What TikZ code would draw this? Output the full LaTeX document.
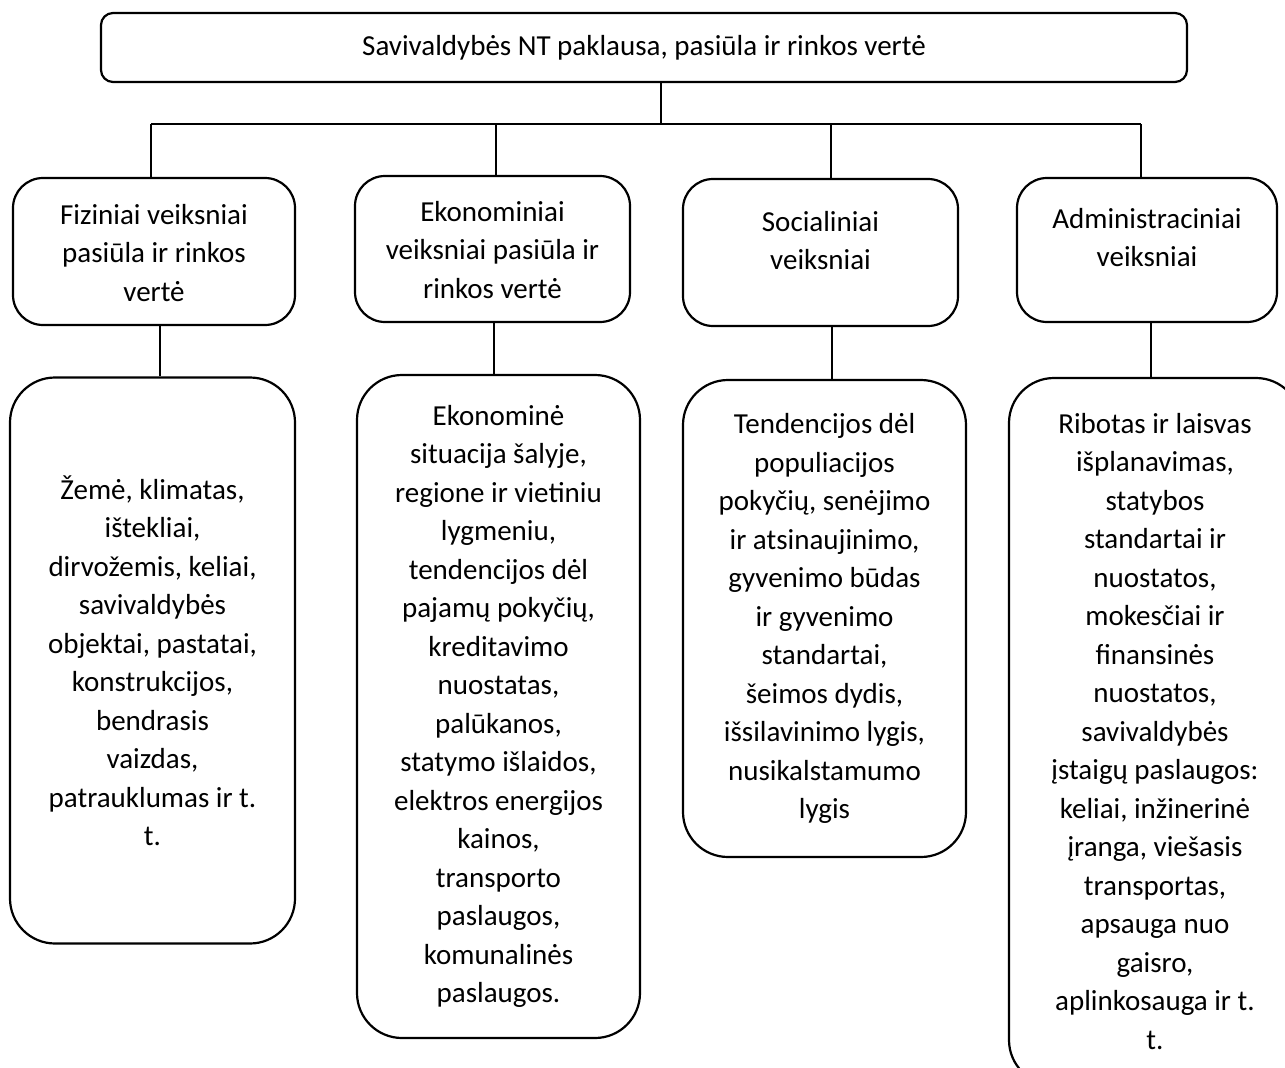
\documentclass[tikz,border=0pt]{standalone}
\usepackage{fontspec}
\setmainfont{Carlito}
\usetikzlibrary{positioning}

\begin{document}
\begin{tikzpicture}[x=1pt, y=-1pt,
  titlebox/.style={draw, rectangle, rounded corners=12pt, line width=2.2pt,
    minimum width=1086pt, minimum height=69pt, inner sep=0pt},
  factorbox/.style={draw, rectangle, rounded corners=30pt, line width=2.2pt, inner sep=0pt},
  detailbox/.style={draw, rectangle, rounded corners=45pt, line width=2.2pt,
    inner sep=0pt, align=center},
  boxtext/.style={inner sep=0pt, align=center, anchor=north},
  conn/.style={line width=1.1pt},
  every node/.style={font=\fontsize{29}{38.5}\selectfont}]
  \useasboundingbox (0, 0) rectangle (1285, 1068);
  \clip (0, 0) rectangle (1285, 1068);

  % Title box
  \node[titlebox] (title) at (644, 47.5)
    {Savivaldybės NT paklausa, pasiūla ir rinkos vertė};

  % Factor boxes
  \node[factorbox, minimum width=282pt, minimum height=147pt] (fiz) at (154, 251.5) {};
  \node[factorbox, minimum width=275pt, minimum height=146pt] (eko) at (492.5, 249) {};
  \node[factorbox, minimum width=275pt, minimum height=147pt] (soc) at (820.5, 252.5) {};
  \node[factorbox, minimum width=260pt, minimum height=144pt] (adm) at (1147, 250) {};

  % Factor labels
  \node[boxtext, below=27pt of fiz.north] (fizlbl)
    {Fiziniai veiksniai\\pasiūla ir rinkos\\vertė};
  \node[boxtext, below=26pt of eko.north] (ekolbl)
    {Ekonominiai\\veiksniai pasiūla ir\\rinkos vertė};
  \node[boxtext, below=33pt of soc.north] (soclbl)
    {Socialiniai\\veiksniai};
  \node[boxtext, below=31pt of adm.north] (admlbl)
    {Administraciniai\\veiksniai};

  % Detail boxes
  \node[detailbox, minimum width=285pt, minimum height=566pt] (fizdet) at (152.5, 660.5)
    {Žemė, klimatas,\\ištekliai,\\dirvožemis, keliai,\\savivaldybės\\objektai, pastatai,\\
     konstrukcijos,\\bendrasis\\vaizdas,\\patrauklumas ir t.\\t.};
  \node[detailbox, minimum width=283pt, minimum height=663pt] (ekodet) at (498.5, 706.5)
    {Ekonominė\\situacija šalyje,\\regione ir vietiniu\\lygmeniu,\\tendencijos dėl\\
     pajamų pokyčių,\\kreditavimo\\nuostatas,\\palūkanos,\\statymo išlaidos,\\
     elektros energijos\\kainos,\\transporto\\paslaugos,\\komunalinės\\paslaugos.};
  \node[detailbox, minimum width=283pt, minimum height=477pt] (socdet) at (824.5, 618.5)
    {Tendencijos dėl\\populiacijos\\pokyčių, senėjimo\\ir atsinaujinimo,\\gyvenimo būdas\\
     ir gyvenimo\\standartai,\\šeimos dydis,\\išsilavinimo lygis,\\nusikalstamumo\\lygis};
  \node[detailbox, minimum width=292pt, minimum height=707pt] (admdet) at (1155, 731.5)
    {Ribotas ir laisvas\\išplanavimas,\\statybos\\standartai ir\\nuostatos,\\mokesčiai ir\\
     finansinės\\nuostatos,\\savivaldybės\\įstaigų paslaugos:\\keliai, inžinerinė\\
     įranga, viešasis\\transportas,\\apsauga nuo\\gaisro,\\aplinkosauga ir t.\\t.};

  % Connectors
  \coordinate (bus) at (661, 124);
  \coordinate (busL) at (151, 124);
  \coordinate (busE) at (496, 124);
  \coordinate (busS) at (831, 124);
  \coordinate (busR) at (1141, 124);
  \draw[conn] (title.south -| bus) -- (bus);
  \draw[conn] (busL) -- (busR);
  \draw[conn] (busL) -- (busL |- fiz.north);
  \draw[conn] (busE) -- (busE |- eko.north);
  \draw[conn] (busS) -- (busS |- soc.north);
  \draw[conn] (busR) -- (busR |- adm.north);
  \draw[conn] (fiz.south -| 160,0) -- (fizdet.north -| 160,0);
  \draw[conn] (eko.south -| 494,0) -- (ekodet.north -| 494,0);
  \draw[conn] (soc.south -| 832,0) -- (socdet.north -| 832,0);
  \draw[conn] (adm.south -| 1151,0) -- (admdet.north -| 1151,0);
\end{tikzpicture}
\end{document}
